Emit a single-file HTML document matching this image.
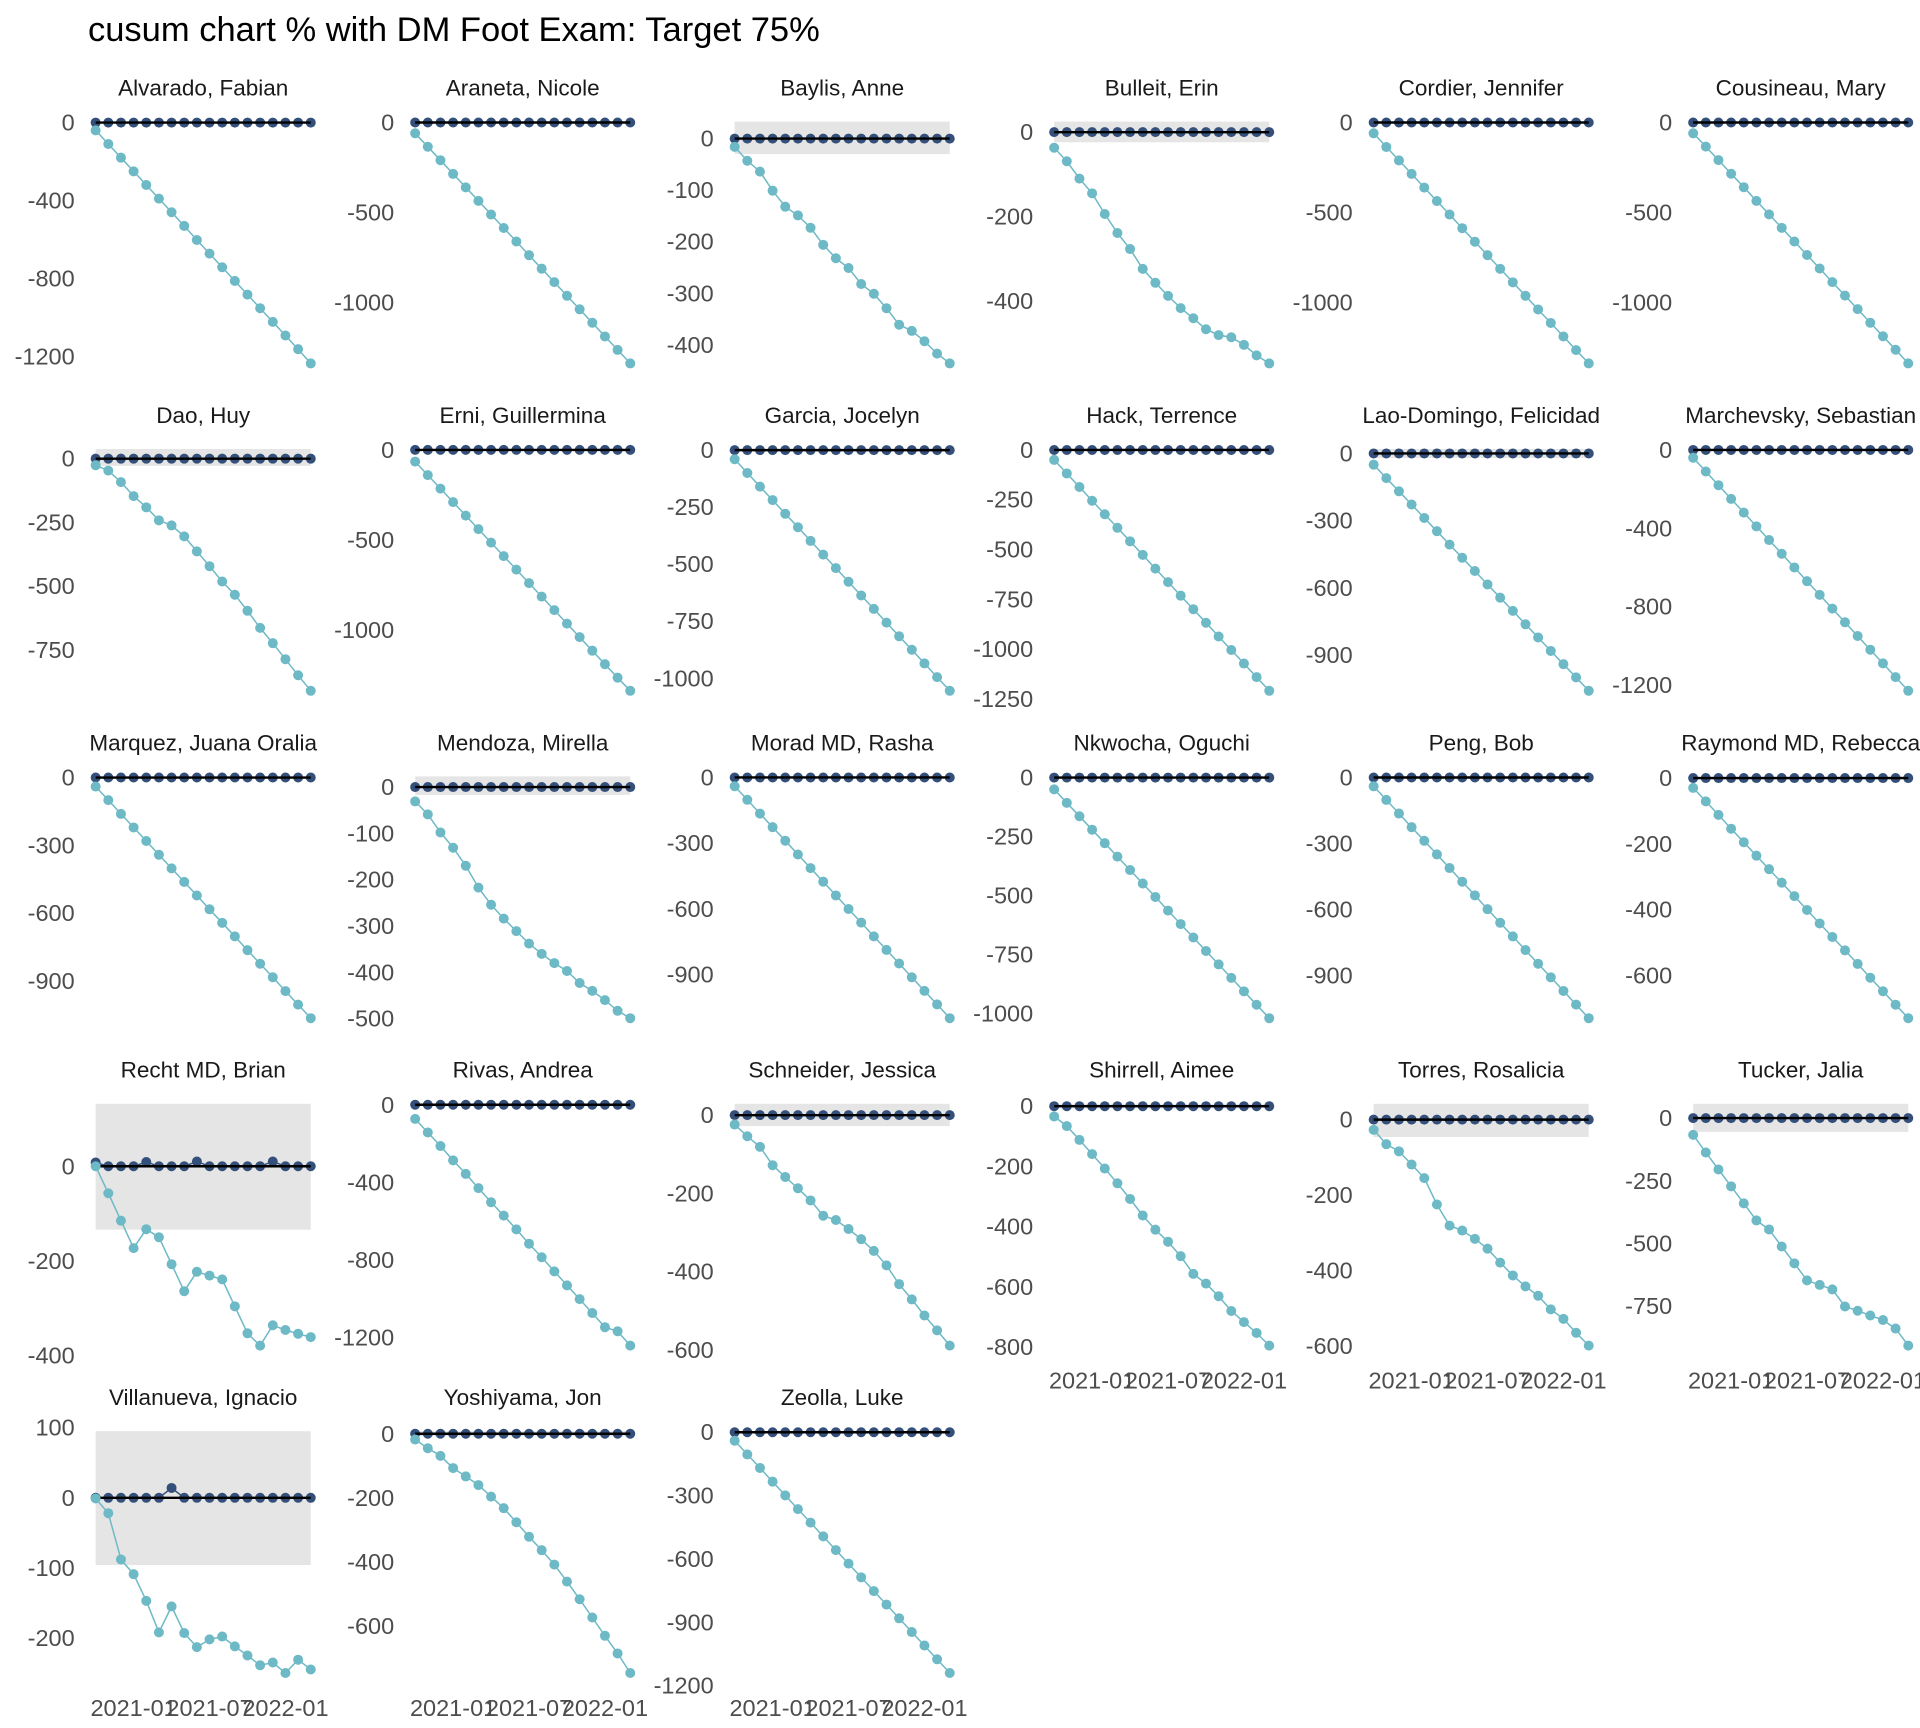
<!DOCTYPE html>
<html><head><meta charset="utf-8"><style>
body{margin:0;background:#fff}
svg{display:block;font-family:"Liberation Sans",Arial,sans-serif}
</style></head><body>
<svg id="chart" width="1920" height="1728" viewBox="0 0 1920 1728" xmlns="http://www.w3.org/2000/svg">
<rect width="1920" height="1728" fill="#fff"/>
<text x="88" y="41" font-size="34.5" fill="#000">cusum chart % with DM Foot Exam: Target 75%</text>
</svg>
<script>
const names = ["Alvarado, Fabian","Araneta, Nicole","Baylis, Anne","Bulleit, Erin","Cordier, Jennifer","Cousineau, Mary","Dao, Huy","Erni, Guillermina","Garcia, Jocelyn","Hack, Terrence","Lao-Domingo, Felicidad","Marchevsky, Sebastian","Marquez, Juana Oralia","Mendoza, Mirella","Morad MD, Rasha","Nkwocha, Oguchi","Peng, Bob","Raymond MD, Rebecca","Recht MD, Brian","Rivas, Andrea","Schneider, Jessica","Shirrell, Aimee","Torres, Rosalicia","Tucker, Jalia","Villanueva, Ignacio","Yoshiyama, Jon","Zeolla, Luke"];
const yTicks = [[0,-400,-800,-1200],[0,-500,-1000],[0,-100,-200,-300,-400],[0,-200,-400],[0,-500,-1000],[0,-500,-1000],
[0,-250,-500,-750],[0,-500,-1000],[0,-250,-500,-750,-1000],[0,-250,-500,-750,-1000,-1250],[0,-300,-600,-900],[0,-400,-800,-1200],
[0,-300,-600,-900],[0,-100,-200,-300,-400,-500],[0,-300,-600,-900],[0,-250,-500,-750,-1000],[0,-300,-600,-900],[0,-200,-400,-600],
[0,-200,-400],[0,-400,-800,-1200],[0,-200,-400,-600],[0,-200,-400,-600,-800],[0,-200,-400,-600],[0,-250,-500,-750],
[100,0,-100,-200],[0,-200,-400,-600],[0,-300,-600,-900,-1200]];
const bandHi = [5,5,33,25,5,5, 38,5,5,5,20,5, 5,23,5,5,5,5, 132,5,29,8,42,57, 95,8,5];
const bandLo = [-5,-5,-30,-24,-5,-5, -28,-5,-5,-5,-20,-5, -5,-17,-5,-5,-5,-5, -134,-5,-28,-8,-46,-55, -96,-8,-5];
const cusumLow = [
[-40,-110,-180,-250,-320,-390,-460,-530,-602,-672,-742,-812,-882,-952,-1022,-1092,-1162,-1235],
[-60,-135,-210,-286,-361,-436,-512,-587,-662,-738,-813,-888,-964,-1039,-1114,-1190,-1265,-1340],
[-16,-43,-64,-101,-132,-149,-173,-206,-232,-251,-282,-301,-329,-361,-373,-393,-417,-436],
[-37,-69,-110,-145,-194,-239,-277,-324,-357,-388,-417,-441,-467,-481,-486,-504,-529,-548],
[-60,-136,-211,-286,-362,-437,-512,-588,-663,-738,-814,-889,-964,-1040,-1115,-1190,-1266,-1340],
[-60,-134,-209,-285,-360,-436,-511,-586,-662,-737,-812,-888,-963,-1038,-1114,-1189,-1264,-1340],
[-26,-47,-92,-147,-191,-242,-262,-305,-364,-422,-482,-534,-597,-664,-724,-787,-850,-911],
[-65,-140,-215,-290,-365,-440,-515,-590,-665,-740,-815,-890,-965,-1040,-1115,-1190,-1265,-1338],
[-40,-100,-160,-219,-279,-338,-398,-458,-517,-577,-637,-696,-756,-816,-875,-935,-995,-1055],
[-50,-118,-186,-255,-323,-391,-459,-527,-596,-664,-732,-800,-868,-937,-1005,-1073,-1141,-1210],
[-50,-110,-169,-228,-288,-347,-407,-466,-525,-585,-644,-703,-763,-822,-882,-941,-1000,-1060],
[-40,-110,-180,-250,-320,-390,-460,-530,-600,-670,-740,-810,-880,-950,-1020,-1090,-1160,-1230],
[-40,-100,-161,-221,-281,-342,-402,-462,-522,-583,-643,-703,-764,-824,-884,-945,-1005,-1065],
[-31,-59,-98,-131,-170,-217,-254,-284,-311,-338,-360,-380,-397,-423,-440,-460,-483,-499],
[-40,-102,-165,-227,-289,-352,-414,-476,-539,-601,-663,-726,-788,-850,-913,-975,-1037,-1100],
[-50,-107,-164,-221,-278,-335,-392,-449,-506,-564,-621,-678,-735,-792,-849,-906,-963,-1020],
[-40,-102,-164,-226,-288,-350,-412,-474,-536,-599,-661,-723,-785,-847,-909,-971,-1033,-1095],
[-30,-71,-112,-154,-195,-236,-277,-318,-359,-401,-442,-483,-524,-565,-607,-648,-689,-730],
[0,-57,-115,-173,-133,-150,-207,-264,-223,-231,-239,-296,-353,-379,-336,-346,-354,-361],
[-73,-143,-213,-287,-357,-430,-503,-572,-643,-717,-787,-860,-932,-1003,-1075,-1148,-1169,-1243],
[-24,-54,-81,-128,-158,-187,-218,-257,-268,-291,-317,-347,-384,-432,-471,-512,-550,-589],
[-34,-66,-112,-159,-207,-256,-308,-363,-410,-450,-498,-557,-589,-631,-680,-717,-753,-795],
[-27,-65,-84,-119,-155,-225,-281,-294,-316,-342,-379,-413,-442,-467,-503,-528,-565,-599],
[-67,-137,-205,-272,-340,-408,-444,-512,-579,-647,-665,-683,-751,-768,-787,-805,-839,-907],
[-1,-22,-88,-109,-147,-192,-155,-193,-213,-202,-198,-212,-225,-239,-235,-250,-231,-245],
[-18,-45,-69,-107,-133,-160,-196,-232,-276,-321,-363,-408,-461,-516,-573,-630,-685,-746],
[-40,-105,-169,-234,-299,-364,-428,-493,-558,-622,-687,-752,-816,-881,-946,-1010,-1075,-1140]];
const recht_high = [8,0,0,0,9,0,0,0,10,0,0,0,0,0,10,0,0,0];
const villa_high = [0,0,0,0,0,0,14,0,0,0,0,0,0,0,0,0,0,0];
const flat_high = [0,0,0,0,0,0,0,0,0,0,0,0,0,0,0,0,0,0];
const xTickLabels = ["2021-01","2021-07","2022-01"];
const xTickIdx = [3,9,15];
const nPts = 18;

const NS="http://www.w3.org/2000/svg";
const svg=document.getElementById('chart');
function mk(tag,attrs,parent){const e=document.createElementNS(NS,tag);for(const k in attrs)e.setAttribute(k,attrs[k]);(parent||svg).appendChild(e);return e;}
const PW=239, PH=266;
const bottomRow=[4,4,4,3,3,3];
names.forEach((nm,i)=>{
  const c=i%6, r=Math.floor(i/6);
  const left=83.7+319.5*c, top=109.5+327.4*r;
  const high = i===18?recht_high:(i===24?villa_high:flat_high);
  const low = cusumLow[i];
  const ymax=Math.max(bandHi[i],...high), ymin=Math.min(bandLo[i],...low);
  const ex=(ymax-ymin)*0.05, d0=ymin-ex, d1=ymax+ex;
  const y=v=>top+PH*(d1-v)/(d1-d0);
  const x=k=>left+PW*0.05+PW*0.9*k/(nPts-1);
  const g=mk('g',{});
  
  
  const cp=mk('clipPath',{id:'cp'+i},g); mk('rect',{x:left-4,y:top-44,width:PW+8,height:44},cp);
  const st=mk('text',{x:left+PW/2,y:top-14,'text-anchor':'middle','font-size':22.5,fill:'#1a1a1a','clip-path':'url(#cp'+i+')'},g);
  st.textContent=nm;
  
  
  const band=mk('rect',{x:x(0),y:y(bandHi[i]),width:x(nPts-1)-x(0),height:y(bandLo[i])-y(bandHi[i]),fill:'#e5e5e5'},g);
  
  
  yTicks[i].forEach(t=>{
    const tl=mk('text',{x:left-9,y:y(t)+8,'text-anchor':'end','font-size':23.5,fill:'#4d4d4d'},g);
    tl.textContent=t;
    
    
  });
  const lp=low.map((v,k)=>x(k).toFixed(1)+','+y(v).toFixed(1)).join(' ');
  const ll=mk('polyline',{points:lp,fill:'none',stroke:'#6db9c6','stroke-width':1.5},g);
  
  
  const hp=high.map((v,k)=>x(k).toFixed(1)+','+y(v).toFixed(1)).join(' ');
  const hl=mk('polyline',{points:hp,fill:'none',stroke:'#34507a','stroke-width':1.5},g);
  
  
  high.forEach((v,k)=>{
    const p=mk('circle',{cx:x(k),cy:y(v),r:5,fill:'#34507a'},g);
    
    
  });
  const tgt=mk('line',{x1:x(0),x2:x(nPts-1),y1:y(0),y2:y(0),stroke:'#000','stroke-width':2.4},g);
  
  
  low.forEach((v,k)=>{
    const p=mk('circle',{cx:x(k),cy:y(v),r:5,fill:'#6db9c6'},g);
    
    
  });
  if(r===bottomRow[c]){
    xTickLabels.forEach((lab,j)=>{
      const t=mk('text',{x:x(xTickIdx[j]),y:top+PH+31,'text-anchor':'middle','font-size':23.5,fill:'#4d4d4d'},g);
      t.textContent=lab;
      
      
    });
  }
});
</script>
</body></html>
